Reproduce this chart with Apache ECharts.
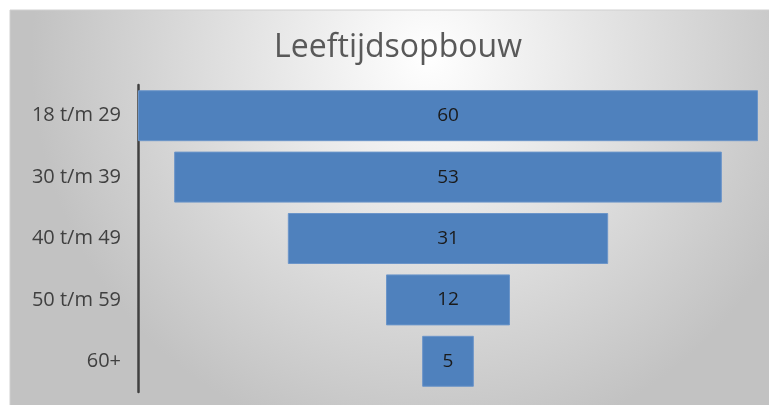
<!DOCTYPE html>
<html lang="nl">
<head>
    <meta charset="UTF-8">
    <title>Leeftijdsopbouw</title>
    <script src="https://cdn.jsdelivr.net/npm/echarts@6/dist/echarts.min.js"></script>
    <style>
        html, body { margin: 0; padding: 0; background: #ffffff; }
        #main { width: 769px; height: 405px; }
    </style>
</head>
<body>
<div id="main"></div>
<script type="text/javascript">
    // data
    var categories = ['18 t/m 29', '30 t/m 39', '40 t/m 49', '50 t/m 59', '60+'];
    var values = [60, 53, 31, 12, 5];
    var maxValue = 60;

    // offset keeps each bar centred (funnel look)
    var offsets = values.map(function (v) { return (maxValue - v) / 2; });

    var myChart = echarts.init(document.getElementById('main'));
    var option = {
        animation: false,
        graphic: [{
            type: 'rect',
            z: -10,
            shape: { x: 10, y: 10, width: 760, height: 396 },
            style: {
                fill: new echarts.graphic.RadialGradient(0.55, 0.12, 1.0, [
                    { offset: 0, color: '#ffffff' },
                    { offset: 1, color: '#c2c2c2' }
                ]),
                stroke: '#d0d0d0',
                lineWidth: 1
            }
        }],
        title: {
            text: 'Leeftijdsopbouw',
            left: 393,
            top: 27,
            textAlign: 'center',
            textStyle: {
                fontFamily: 'Open Sans',
                fontWeight: 400,
                fontSize: 32,
                color: '#595959'
            }
        },
        grid: { left: 138, right: 11, top: 85, bottom: 13 },
        xAxis: {
            type: 'value',
            min: 0,
            max: maxValue,
            show: false
        },
        yAxis: {
            type: 'category',
            data: categories,
            inverse: true,
            axisLine: { show: true, lineStyle: { color: '#404040', width: 2.5 } },
            axisTick: { show: false },
            axisLabel: {
                margin: 17,
                fontFamily: 'Open Sans',
                fontSize: 20,
                color: '#404040'
            }
        },
        series: [
            {
                type: 'bar',
                stack: 'funnel',
                data: offsets,
                itemStyle: { color: 'transparent' },
                silent: true,
                barCategoryGap: '17%'
            },
            {
                type: 'bar',
                stack: 'funnel',
                data: values,
                barCategoryGap: '17%',
                itemStyle: { color: '#4f81bd', borderColor: '#6b95c9', borderWidth: 1 },
                label: {
                    show: true,
                    position: 'inside',
                    fontFamily: 'Open Sans',
                    fontSize: 19,
                    color: '#1a1a1a'
                }
            }
        ]
    };
    myChart.setOption(option);
</script>
</body>
</html>
